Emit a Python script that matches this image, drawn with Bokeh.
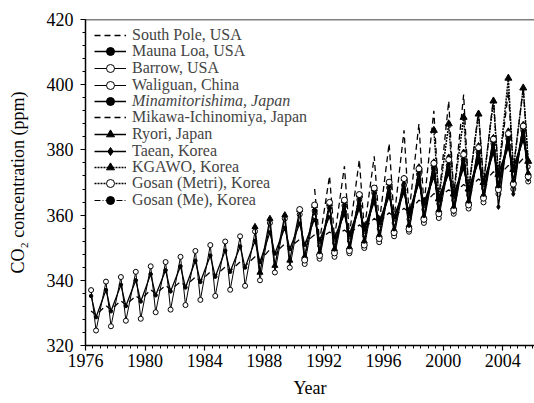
from bokeh.plotting import figure
from bokeh.models import Span, Legend, LegendItem, SingleIntervalTicker
from bokeh.embed import file_html
from bokeh.resources import INLINE

FONT = "Liberation Serif"
PEAK_MONTH = 5
TROUGH_MONTH = 9

y_ticks_interval = 20
x_ticks_interval = 4

# ---- data (annual seasonal maximum / minimum, ppm) ----
yrs_sp = list(range(1976, 2006))
sp_peak = [330.6, 332.2, 333.7, 335.2, 337.1, 338.4, 339.5, 341.0, 342.6, 344.1, 345.6, 347.2, 349.5, 351.2, 352.6,
           354.0, 354.8, 355.4, 357.0, 359.0, 360.7, 362.1, 364.6, 366.6, 367.8, 369.4, 371.1, 373.3, 375.2, 377.4]
sp_trough = [329.4, 331.0, 332.5, 334.0, 335.9, 337.2, 338.3, 339.8, 341.4, 342.9, 344.4, 346.0, 348.3, 350.0, 351.4,
             352.8, 353.6, 354.2, 355.8, 357.8, 359.5, 360.9, 363.4, 365.4, 366.6, 368.2, 369.9, 372.1, 374.0, 376.2]

yrs_ml = list(range(1976, 2006))
ml_peak = [335.2, 337.0, 338.6, 340.0, 341.9, 343.1, 344.3, 346.0, 347.6, 349.1, 350.4, 352.1, 354.7, 356.1, 357.4,
           358.8, 359.6, 360.3, 362.0, 364.0, 365.8, 366.9, 369.9, 371.6, 372.7, 374.3, 376.4, 379.0, 380.7, 383.0]
ml_trough = [328.7, 330.5, 332.1, 333.5, 335.4, 336.6, 337.8, 339.5, 341.1, 342.6, 343.9, 345.6, 348.2, 349.6, 350.9,
             352.3, 353.1, 353.8, 355.5, 357.5, 359.3, 360.4, 363.4, 365.1, 366.2, 367.8, 369.9, 372.5, 374.2, 376.5]

yrs_brw = list(range(1976, 2006))
brw_peak = [337.0, 339.6, 341.0, 342.6, 344.3, 345.6, 347.2, 349.0, 350.8, 351.9, 353.5, 355.0, 357.6, 358.9, 360.2,
            361.3, 362.5, 362.9, 364.7, 366.8, 368.4, 369.2, 372.5, 374.4, 375.2, 377.0, 379.3, 381.9, 383.4, 386.0]
brw_trough = [324.6, 325.9, 327.6, 328.2, 330.2, 331.0, 332.4, 334.0, 335.2, 337.1, 338.3, 340.0, 342.4, 343.9, 345.0,
              346.6, 347.2, 348.3, 349.9, 351.7, 353.5, 354.9, 357.6, 359.1, 360.4, 362.0, 363.9, 366.5, 368.0, 370.3]

yrs_wlg = list(range(1991, 2006))
wlg_peak = [359.6, 360.4, 361.1, 362.8, 364.8, 366.6, 367.7, 370.7, 372.4, 373.5, 375.1, 377.2, 379.8, 381.5, 383.8]
wlg_trough = [350.6, 351.4, 352.1, 353.8, 355.8, 357.6, 358.7, 361.7, 363.4, 364.5, 366.1, 368.2, 370.8, 372.5, 374.8]

yrs_mnm = list(range(1993, 2006))
mnm_peak = [361.1, 362.8, 364.8, 366.6, 367.7, 370.7, 372.4, 373.5, 375.1, 377.2, 379.8, 381.5, 383.8]
mnm_trough = [354.1, 355.8, 357.8, 359.6, 360.7, 363.7, 365.4, 366.5, 368.1, 370.2, 372.8, 374.5, 376.8]

yrs_mkw = list(range(1991, 2006))
mkw_peak = [368.0, 372.0, 375.0, 377.0, 378.0, 382.0, 386.0, 388.0, 392.0, 395.0, 397.0, 392.0, 396.0, 398.0, 399.0]
mkw_trough = [352.0, 353.0, 354.0, 355.5, 357.5, 359.0, 360.5, 363.0, 365.0, 366.0, 367.5, 369.5, 372.0, 374.0, 376.0]

yrs_ryo = list(range(1987, 2006))
ryo_peak = [356.4, 358.9, 360.0, 361.6, 362.9, 363.5, 364.4, 366.1, 368.0, 369.9, 371.2, 374.0, 375.6, 376.9, 378.4,
            380.6, 383.1, 384.7, 387.2]
ryo_trough = [342.4, 344.5, 346.1, 347.3, 348.4, 349.6, 350.1, 352.0, 353.8, 355.5, 356.9, 359.6, 361.5, 362.4, 364.2,
              366.1, 368.9, 370.3, 372.8]

yrs_tae = list(range(1998, 2006))
tae_peak = [375.0, 376.5, 378.0, 379.5, 381.5, 384.0, 386.0, 388.0]
tae_trough = [358.5, 360.5, 361.0, 363.0, 365.0, 362.5, 366.5, 371.0]

yrs_kga = list(range(1999, 2006))
kga_peak = [386.0, 388.0, 390.0, 391.0, 395.0, 402.0, 399.0]
kga_trough = [365.0, 366.5, 368.0, 370.0, 372.5, 374.0, 376.5]

yrs_gsm = list(range(1990, 2006))
gsm_peak = [361.7, 363.1, 363.9, 364.6, 366.3, 368.3, 370.1, 371.2, 374.2, 375.9, 377.0, 378.6, 380.7, 383.3, 385.0, 387.3]
gsm_trough = [346.2, 347.6, 348.4, 349.1, 350.8, 352.8, 354.6, 355.7, 358.7, 360.4, 361.5, 363.1, 365.2, 367.8, 369.5, 371.8]

yrs_gme = list(range(1991, 2006))
gme_peak = [361.6, 362.4, 363.1, 364.8, 366.8, 368.6, 369.7, 372.7, 374.4, 375.5, 377.1, 379.2, 381.8, 383.5, 385.8]
gme_trough = [348.6, 349.4, 350.1, 351.8, 353.8, 355.6, 356.7, 359.7, 361.4, 362.5, 364.1, 366.2, 368.8, 370.5, 372.8]


def series(years, peaks, troughs):
    xs, ys = [], []
    for yr, pk, tr in zip(years, peaks, troughs):
        xs += [yr + (PEAK_MONTH - 0.5) / 12, yr + (TROUGH_MONTH - 0.5) / 12]
        ys += [pk, tr]
    return xs, ys


p = figure(width=534, height=403, x_range=(1976, 2006.13), y_range=(320, 420),
           output_backend="svg", toolbar_location=None,
           min_border_left=85, min_border_right=0, min_border_top=19, min_border_bottom=58)
p.xgrid.visible = False
p.ygrid.visible = False
p.outline_line_color = None
p.background_fill_color = "white"

stations = [
    # label, years, peaks, troughs, dash, width, marker, size, fill, italic
    ("South Pole, USA", yrs_sp, sp_peak, sp_trough, "6 4", 1.3, None, 0, None, False),
    ("Mauna Loa, USA", yrs_ml, ml_peak, ml_trough, "solid", 1.3, "circle", 3.5, "black", False),
    ("Barrow, USA", yrs_brw, brw_peak, brw_trough, "solid", 1.0, "circle", 5, "white", False),
    ("Waliguan, China", yrs_wlg, wlg_peak, wlg_trough, "solid", 1.0, "circle", 4, "white", False),
    ("Minamitorishima, Japan", yrs_mnm, mnm_peak, mnm_trough, "solid", 1.3, "circle", 3.5, "black", True),
    ("Mikawa-Ichinomiya, Japan", yrs_mkw, mkw_peak, mkw_trough, "6 4", 1.3, None, 0, None, False),
    ("Ryori, Japan", yrs_ryo, ryo_peak, ryo_trough, "solid", 1.3, "triangle", 6, "black", False),
    ("Taean, Korea", yrs_tae, tae_peak, tae_trough, "solid", 1.3, "diamond", 5, "black", False),
    ("KGAWO, Korea", yrs_kga, kga_peak, kga_trough, "2 1", 1.5, "triangle", 7, "black", False),
    ("Gosan (Metri), Korea", yrs_gsm, gsm_peak, gsm_trough, "2 1", 1.3, "circle", 6, "white", False),
    ("Gosan (Me), Korea", yrs_gme, gme_peak, gme_trough, "6 2 1 2", 1.2, "circle", 3, "black", False),
]

FRAME_H = 326
ITEM_H = 20
LEG_TOP = 16      # first legend row centre, px below frame top
LEG_STEP = 16.5   # px between legend rows

for i, (label, yrs, pk, tr, dash, lw, marker, size, fill, italic) in enumerate(stations):
    xs, ys = series(yrs, pk, tr)
    rs = [p.line(xs, ys, line_color="black", line_width=lw, line_dash=dash)]
    if marker:
        rs.append(p.scatter(xs, ys, marker=marker, size=size, line_color="black",
                            fill_color=fill, line_width=1))
    centre = LEG_TOP + i * LEG_STEP
    lg = Legend(items=[LegendItem(label=label, renderers=rs)],
                location=(9, round(FRAME_H - centre - ITEM_H / 2)),
                label_text_font=FONT, label_text_font_size="16px",
                label_text_font_style="italic" if italic else "normal",
                label_height=ITEM_H, glyph_height=ITEM_H, glyph_width=32, label_standoff=6,
                spacing=0, padding=0, margin=0,
                border_line_color=None, background_fill_alpha=0)
    p.add_layout(lg, "center")

p.add_layout(Span(location=420, dimension="width", line_color="black", line_width=1.5))

p.xaxis.ticker = SingleIntervalTicker(interval=x_ticks_interval, num_minor_ticks=8)
p.yaxis.ticker = SingleIntervalTicker(interval=y_ticks_interval, num_minor_ticks=5)

for ax in (p.xaxis[0], p.yaxis[0]):
    ax.axis_line_width = 1.5
    ax.major_tick_out = 5
    ax.major_tick_in = 0
    ax.minor_tick_out = 3
    ax.minor_tick_in = 0
    ax.major_tick_line_width = 1.2
    ax.major_label_text_font = FONT
    ax.major_label_text_font_size = "18px"
    ax.axis_label_text_font = FONT
    ax.axis_label_text_font_size = "18px"
    ax.axis_label_text_font_style = "normal"
    ax.major_label_text_color = "black"
    ax.axis_label_text_color = "black"

p.xaxis.major_label_standoff = 3
p.yaxis.major_label_standoff = 7
p.xaxis.axis_label = "Year"
p.xaxis.axis_label_standoff = 8
p.yaxis.axis_label = "CO\u2082 concentration (ppm)"
p.yaxis.axis_label_standoff = 16

open("out.html", "w").write(file_html(p, INLINE))
